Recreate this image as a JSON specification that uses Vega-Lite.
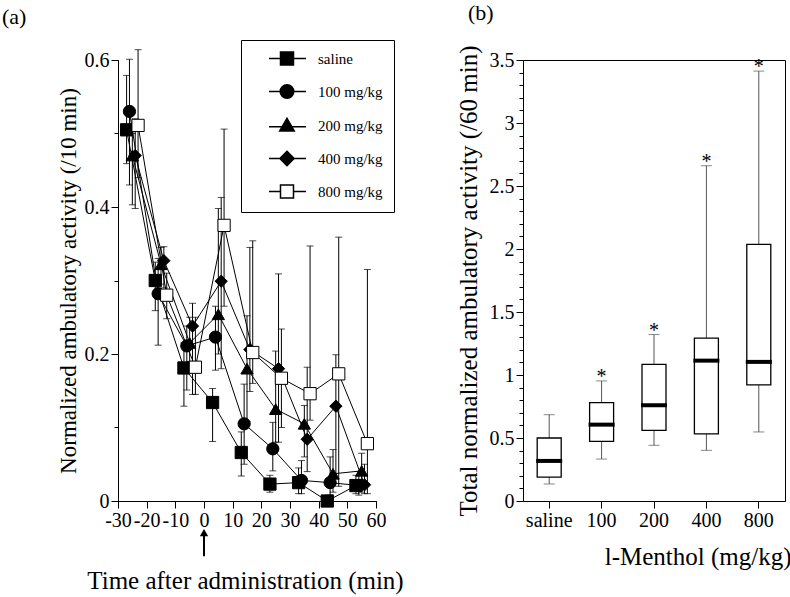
{
  "$schema": "https://vega.github.io/schema/vega-lite/v6.json",
  "padding": {"left": 2, "top": 1, "right": 2, "bottom": 2},
  "spacing": 51,
  "config": {
    "font": "Liberation Serif",
    "view": {"stroke": null},
    "axis": {
      "domainColor": "black", "tickColor": "black", "labelColor": "black", "titleColor": "black",
      "labelFont": "Liberation Serif", "titleFont": "Liberation Serif",
      "labelFontSize": 20, "titleFontSize": 24, "titleFontWeight": "normal",
      "grid": false, "tickSize": 7, "domainWidth": 1, "tickWidth": 1,
      "labelOverlap": false, "labelFlush": false, "labelPadding": 2
    },
    "title": {"font": "Liberation Serif", "fontSize": 22, "fontWeight": "normal", "anchor": "start", "color": "black", "frame": "bounds", "offset": 20},
    "legend": {
      "orient": "none", "legendX": 123, "legendY": -20, "title": null,
      "labelFont": "Liberation Serif", "labelFontSize": 15, "labelColor": "black",
      "padding": 11, "rowPadding": 13, "strokeColor": "black", "fillColor": "white",
      "symbolSize": 169, "labelOffset": 51
    }
  },
  "datasets": {
    "ts": [
      {"group": "saline", "t": -27, "v": 0.505, "lo": 0.459, "hi": 0.579},
      {"group": "saline", "t": -17, "v": 0.300, "lo": 0.259, "hi": 0.325},
      {"group": "saline", "t": -7, "v": 0.181, "lo": 0.129, "hi": 0.215},
      {"group": "saline", "t": 3, "v": 0.134, "lo": 0.081, "hi": 0.153},
      {"group": "saline", "t": 13, "v": 0.066, "lo": 0.034, "hi": 0.094},
      {"group": "saline", "t": 23, "v": 0.023, "lo": 0.012, "hi": 0.035},
      {"group": "saline", "t": 33, "v": 0.025, "lo": 0.010, "hi": 0.045},
      {"group": "saline", "t": 43, "v": 0.0, "lo": 0.0, "hi": 0.006},
      {"group": "saline", "t": 53, "v": 0.021, "lo": 0.010, "hi": 0.035},
      {"group": "100 mg/kg", "t": -26, "v": 0.530, "lo": 0.430, "hi": 0.601},
      {"group": "100 mg/kg", "t": -16, "v": 0.282, "lo": 0.212, "hi": 0.330},
      {"group": "100 mg/kg", "t": -6, "v": 0.211, "lo": 0.151, "hi": 0.238},
      {"group": "100 mg/kg", "t": 4, "v": 0.223, "lo": 0.178, "hi": 0.265},
      {"group": "100 mg/kg", "t": 14, "v": 0.105, "lo": 0.050, "hi": 0.159},
      {"group": "100 mg/kg", "t": 24, "v": 0.071, "lo": 0.041, "hi": 0.107},
      {"group": "100 mg/kg", "t": 34, "v": 0.028, "lo": 0.010, "hi": 0.055},
      {"group": "100 mg/kg", "t": 44, "v": 0.025, "lo": 0.008, "hi": 0.060},
      {"group": "100 mg/kg", "t": 54, "v": 0.021, "lo": 0.008, "hi": 0.040},
      {"group": "200 mg/kg", "t": -25, "v": 0.470, "lo": 0.403, "hi": 0.500},
      {"group": "200 mg/kg", "t": -15, "v": 0.322, "lo": 0.295, "hi": 0.345},
      {"group": "200 mg/kg", "t": -5, "v": 0.215, "lo": 0.190, "hi": 0.250},
      {"group": "200 mg/kg", "t": 5, "v": 0.254, "lo": 0.200, "hi": 0.398},
      {"group": "200 mg/kg", "t": 15, "v": 0.180, "lo": 0.108, "hi": 0.252},
      {"group": "200 mg/kg", "t": 25, "v": 0.125, "lo": 0.080, "hi": 0.204},
      {"group": "200 mg/kg", "t": 35, "v": 0.105, "lo": 0.060, "hi": 0.130},
      {"group": "200 mg/kg", "t": 45, "v": 0.037, "lo": 0.012, "hi": 0.070},
      {"group": "200 mg/kg", "t": 55, "v": 0.041, "lo": 0.012, "hi": 0.065},
      {"group": "400 mg/kg", "t": -24, "v": 0.470, "lo": 0.398, "hi": 0.520},
      {"group": "400 mg/kg", "t": -14, "v": 0.327, "lo": 0.290, "hi": 0.346},
      {"group": "400 mg/kg", "t": -4, "v": 0.238, "lo": 0.145, "hi": 0.269},
      {"group": "400 mg/kg", "t": 6, "v": 0.299, "lo": 0.180, "hi": 0.413},
      {"group": "400 mg/kg", "t": 16, "v": 0.206, "lo": 0.149, "hi": 0.345},
      {"group": "400 mg/kg", "t": 26, "v": 0.180, "lo": 0.080, "hi": 0.309},
      {"group": "400 mg/kg", "t": 36, "v": 0.084, "lo": 0.040, "hi": 0.182},
      {"group": "400 mg/kg", "t": 46, "v": 0.129, "lo": 0.030, "hi": 0.199},
      {"group": "400 mg/kg", "t": 56, "v": 0.022, "lo": 0.010, "hi": 0.050},
      {"group": "800 mg/kg", "t": -23, "v": 0.511, "lo": 0.440, "hi": 0.614},
      {"group": "800 mg/kg", "t": -13, "v": 0.280, "lo": 0.248, "hi": 0.310},
      {"group": "800 mg/kg", "t": -3, "v": 0.182, "lo": 0.145, "hi": 0.250},
      {"group": "800 mg/kg", "t": 7, "v": 0.375, "lo": 0.265, "hi": 0.506},
      {"group": "800 mg/kg", "t": 17, "v": 0.202, "lo": 0.160, "hi": 0.354},
      {"group": "800 mg/kg", "t": 27, "v": 0.167, "lo": 0.100, "hi": 0.234},
      {"group": "800 mg/kg", "t": 37, "v": 0.146, "lo": 0.110, "hi": 0.347},
      {"group": "800 mg/kg", "t": 47, "v": 0.173, "lo": 0.020, "hi": 0.359},
      {"group": "800 mg/kg", "t": 57, "v": 0.078, "lo": 0.010, "hi": 0.315}
    ],
    "box": [
      {"cat": "saline", "lo": 0.135, "q1": 0.19, "med": 0.318, "q3": 0.50, "hi": 0.685, "star": ""},
      {"cat": "100", "lo": 0.333, "q1": 0.473, "med": 0.606, "q3": 0.781, "hi": 0.953, "star": "*"},
      {"cat": "200", "lo": 0.442, "q1": 0.561, "med": 0.760, "q3": 1.085, "hi": 1.321, "star": "*"},
      {"cat": "400", "lo": 0.402, "q1": 0.532, "med": 1.114, "q3": 1.292, "hi": 2.661, "star": "*"},
      {"cat": "800", "lo": 0.548, "q1": 0.921, "med": 1.104, "q3": 2.036, "hi": 3.412, "star": "*"}
    ]
  },
  "hconcat": [
    {
      "width": 258,
      "height": 441,
      "title": {"text": "(a)", "dx": -55},
      "resolve": {"axis": {"x": "independent", "y": "independent"}},
      "layer": [
        {
          "data": {"name": "ts"},
          "mark": {"type": "line", "color": "black", "strokeWidth": 1},
          "encoding": {
            "x": {
              "field": "t", "type": "quantitative",
              "scale": {"domain": [-30, 60], "nice": false, "zero": false},
              "axis": {
                "orient": "bottom",
                "title": "Time after administration (min)",
                "titleFontSize": 25,
                "values": [-30, -10, 10, 30, 50],
                "labelExpr": "'' + datum.value",
                "titleX": 127, "titleY": 87, "titleAlign": "center", "titleBaseline": "alphabetic"
              }
            },
            "y": {
              "field": "v", "type": "quantitative",
              "scale": {"domain": [0, 0.6], "nice": false},
              "axis": {
                "orient": "left",
                "title": "Normalized ambulatory activity (/10 min)",
                "titleFontSize": 23,
                "values": [0, 0.2, 0.4, 0.6],
                "labelExpr": "'' + datum.value",
                "titlePadding": 4
              }
            },
            "detail": {"field": "group"}
          }
        },
        {
          "data": {"name": "ts"},
          "mark": {"type": "rule", "color": "black", "strokeWidth": 1},
          "encoding": {
            "x": {
              "field": "t", "type": "quantitative",
              "axis": {"orient": "bottom", "title": null, "values": [-20, 0, 20, 40, 60], "labelExpr": "'' + datum.value"}
            },
            "y": {
              "field": "lo", "type": "quantitative",
              "axis": {"orient": "left", "title": null, "values": [0.1, 0.3, 0.5], "labels": false, "tickSize": 4}
            },
            "y2": {"field": "hi"}
          }
        },
        {
          "data": {"name": "ts"},
          "mark": {"type": "tick", "orient": "horizontal", "color": "black", "size": 7, "thickness": 1},
          "encoding": {
            "x": {"field": "t", "type": "quantitative", "axis": null},
            "y": {"field": "lo", "type": "quantitative", "axis": null}
          }
        },
        {
          "data": {"name": "ts"},
          "mark": {"type": "tick", "orient": "horizontal", "color": "black", "size": 7, "thickness": 1},
          "encoding": {
            "x": {"field": "t", "type": "quantitative", "axis": null},
            "y": {"field": "hi", "type": "quantitative", "axis": null}
          }
        },
        {
          "data": {"name": "ts"},
          "transform": [{"filter": "datum.group === 'saline'"}],
          "mark": {"type": "point", "shape": "square", "filled": true, "fill": "black", "stroke": "black", "strokeWidth": 1, "opacity": 1, "size": 150},
          "encoding": {
            "x": {"field": "t", "type": "quantitative", "axis": null},
            "y": {"field": "v", "type": "quantitative", "axis": null}
          }
        },
        {
          "data": {"name": "ts"},
          "transform": [{"filter": "datum.group === '100 mg/kg'"}],
          "mark": {"type": "point", "shape": "circle", "filled": true, "fill": "black", "stroke": "black", "strokeWidth": 1, "opacity": 1, "size": 150},
          "encoding": {
            "x": {"field": "t", "type": "quantitative", "axis": null},
            "y": {"field": "v", "type": "quantitative", "axis": null}
          }
        },
        {
          "data": {"name": "ts"},
          "transform": [{"filter": "datum.group === '200 mg/kg'"}],
          "mark": {"type": "point", "shape": "triangle-up", "filled": true, "fill": "black", "stroke": "black", "strokeWidth": 1, "opacity": 1, "size": 150},
          "encoding": {
            "x": {"field": "t", "type": "quantitative", "axis": null},
            "y": {"field": "v", "type": "quantitative", "axis": null}
          }
        },
        {
          "data": {"name": "ts"},
          "transform": [{"filter": "datum.group === '400 mg/kg'"}],
          "mark": {"type": "point", "shape": "diamond", "filled": true, "fill": "black", "stroke": "black", "strokeWidth": 1, "opacity": 1, "size": 150},
          "encoding": {
            "x": {"field": "t", "type": "quantitative", "axis": null},
            "y": {"field": "v", "type": "quantitative", "axis": null}
          }
        },
        {
          "data": {"name": "ts"},
          "transform": [{"filter": "datum.group === '800 mg/kg'"}],
          "mark": {"type": "point", "shape": "square", "filled": true, "fill": "white", "stroke": "black", "strokeWidth": 1, "opacity": 1, "size": 150},
          "encoding": {
            "x": {"field": "t", "type": "quantitative", "axis": null},
            "y": {"field": "v", "type": "quantitative", "axis": null}
          }
        },
        {
          "data": {"name": "ts"},
          "transform": [{"filter": "false"}],
          "mark": {"type": "point", "filled": true, "stroke": "black", "strokeWidth": 1, "opacity": 1},
          "encoding": {
            "x": {"field": "t", "type": "quantitative", "axis": null},
            "y": {"field": "v", "type": "quantitative", "axis": null},
            "shape": {
              "field": "group", "type": "nominal",
              "scale": {
                "domain": ["saline", "100 mg/kg", "200 mg/kg", "400 mg/kg", "800 mg/kg"],
                "range": [
                  "M1.46,0H7.15M3.23,-1H5.23V1H3.23Z",
                  "M1.46,0H7.15M3.18,0A1.05,1.05,0,1,1,5.28,0A1.05,1.05,0,1,1,3.18,0Z",
                  "M1.46,0.2H7.15M4.23,-1.1L5.35,0.85H3.11Z",
                  "M1.46,0H7.15M4.23,-1.1L5.33,0L4.23,1.1L3.13,0Z",
                  "M1.46,0H3.23M5.23,0H7.15M3.23,-1H5.23V1H3.23Z"
                ]
              },
              "legend": {}
            },
            "fill": {
              "field": "group", "type": "nominal",
              "scale": {"domain": ["saline", "100 mg/kg", "200 mg/kg", "400 mg/kg", "800 mg/kg"], "range": ["black", "black", "black", "black", "white"]},
              "legend": {}
            }
          }
        },
        {
          "data": {"values": [{"t": 0, "a": -0.075, "b": -0.045}]},
          "mark": {"type": "rule", "color": "black", "strokeWidth": 2},
          "encoding": {
            "x": {"field": "t", "type": "quantitative", "axis": null},
            "y": {"field": "a", "type": "quantitative", "axis": null},
            "y2": {"field": "b"}
          }
        },
        {
          "data": {"values": [{"t": 0, "b": -0.043}]},
          "mark": {"type": "point", "shape": "triangle-up", "filled": true, "color": "black", "opacity": 1, "size": 70},
          "encoding": {
            "x": {"field": "t", "type": "quantitative", "axis": null},
            "y": {"field": "b", "type": "quantitative", "axis": null}
          }
        }
      ]
    },
    {
      "width": 262,
      "height": 441,
      "title": {"text": "(b)", "dx": 12},
      "view": {"stroke": "black", "strokeWidth": 1},
      "data": {"name": "box"},
      "resolve": {"axis": {"y": "independent"}},
      "encoding": {
        "x": {
          "field": "cat", "type": "nominal", "sort": null,
          "scale": {"type": "band", "paddingInner": 0, "paddingOuter": 0},
          "axis": {
            "title": "l-Menthol (mg/kg)", "labelAngle": 0, "titleFontSize": 25,
            "titleX": 268, "titleY": 63, "titleAlign": "right", "titleBaseline": "alphabetic"
          }
        }
      },
      "layer": [
        {
          "mark": {"type": "rule", "color": "#555555", "strokeWidth": 1},
          "encoding": {
            "y": {
              "field": "lo", "type": "quantitative",
              "scale": {"domain": [0, 3.5], "nice": false},
              "axis": {
                "orient": "left",
                "title": "Total normalized ambulatory activity (/60 min)",
                "titleFontSize": 25,
                "values": [0, 0.5, 1, 1.5, 2, 2.5, 3, 3.5],
                "labelExpr": "'' + datum.value",
                "titlePadding": 8
              }
            },
            "y2": {"field": "q1"}
          }
        },
        {
          "mark": {"type": "rule", "color": "#555555", "strokeWidth": 1},
          "encoding": {
            "y": {
              "field": "q3", "type": "quantitative",
              "axis": {
                "orient": "left", "title": null, "labels": false, "tickSize": 4,
                "values": [0.1, 0.2, 0.3, 0.4, 0.6, 0.7, 0.8, 0.9, 1.1, 1.2, 1.3, 1.4, 1.6, 1.7, 1.8, 1.9, 2.1, 2.2, 2.3, 2.4, 2.6, 2.7, 2.8, 2.9, 3.1, 3.2, 3.3, 3.4]
              }
            },
            "y2": {"field": "hi"}
          }
        },
        {
          "mark": {"type": "tick", "color": "#555555", "size": 11, "thickness": 1},
          "encoding": {"y": {"field": "lo", "type": "quantitative", "axis": null}}
        },
        {
          "mark": {"type": "tick", "color": "#555555", "size": 11, "thickness": 1},
          "encoding": {"y": {"field": "hi", "type": "quantitative", "axis": null}}
        },
        {
          "mark": {"type": "bar", "fill": "white", "stroke": "black", "strokeWidth": 1.3, "size": 24},
          "encoding": {
            "y": {"field": "q1", "type": "quantitative", "axis": null},
            "y2": {"field": "q3"}
          }
        },
        {
          "mark": {"type": "tick", "color": "black", "size": 26, "thickness": 4, "opacity": 1},
          "encoding": {"y": {"field": "med", "type": "quantitative", "axis": null}}
        },
        {
          "mark": {"type": "text", "font": "Liberation Serif", "fontSize": 20, "color": "black", "baseline": "alphabetic", "dy": 2},
          "encoding": {
            "y": {"field": "hi", "type": "quantitative", "axis": null},
            "text": {"field": "star"}
          }
        }
      ]
    }
  ]
}
